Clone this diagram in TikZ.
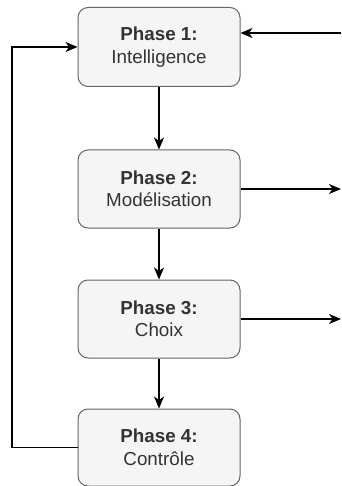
\documentclass[tikz,border=0pt]{standalone}
\usepackage{fontspec}
\setmainfont{Liberation Sans}
\usetikzlibrary{arrows.meta}
\definecolor{boxfill}{HTML}{F5F5F5}
\definecolor{boxdraw}{HTML}{666666}
\definecolor{txt}{HTML}{333333}
\begin{document}
\begin{tikzpicture}[x=1pt,y=-1pt,
  phase/.style={draw=boxdraw, fill=boxfill, rounded corners=10pt, minimum width=162pt, line width=1pt, text=txt, align=center, font=\fontsize{18.8}{22.5}\selectfont, inner sep=0pt},
  conn/.style={line width=1.3pt, -{Stealth[length=12pt,width=10pt,inset=3.5pt]}}]
\useasboundingbox (0,0) rectangle (341,486);
\node[phase, minimum height=79pt] (p1) at (159,47) {\textbf{Phase 1:}\\Intelligence};
\node[phase, minimum height=78pt] (p2) at (159,189) {\textbf{Phase 2:}\\Modélisation};
\node[phase, minimum height=78pt] (p3) at (159,319) {\textbf{Phase 3:}\\Choix};
\node[phase, minimum height=77pt] (p4) at (159,447.5) {\textbf{Phase 4:}\\Contrôle};
\coordinate (lb) at (12,447.5);
\coordinate (lt) at (12,47);
\coordinate (r1) at (341,33);
\coordinate (r2) at (341,189);
\coordinate (r3) at (341,319);
\draw[conn] (p1) -- (p2);
\draw[conn] (p2) -- (p3);
\draw[conn] (p3) -- (p4);
\draw[conn] (p4.west) -- (lb) -- (lt) -- (p1.west);
\draw[conn] (r1) -- (r1 -| p1.east);
\draw[conn] (p2.east) -- (r2);
\draw[conn] (p3.east) -- (r3);
\end{tikzpicture}
\end{document}
